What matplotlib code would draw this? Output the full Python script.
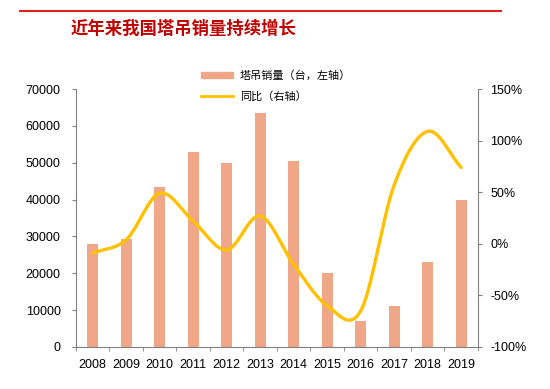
import numpy as np
import matplotlib.pyplot as plt
from matplotlib.patches import Patch
from matplotlib.lines import Line2D

plt.rcParams['font.family'] = ['Liberation Sans', 'Noto Sans CJK SC', 'DejaVu Sans']

years = ['2008', '2009', '2010', '2011', '2012', '2013', '2014', '2015', '2016', '2017', '2018', '2019']
sales = [28000, 29200, 43500, 53000, 50000, 63500, 50600, 20000, 7000, 11000, 23000, 40000]
yoy = [-9, 4, 49, 22, -6, 27, -20, -60, -65, 57, 109, 74]   # percent

bar_color = '#F0A787'
line_color = '#FFC000'
grey = '#808080'


def smooth(x, y, n=30):
    # catmull-rom style smoothing, like excel "smoothed line"
    x = np.asarray(x, float)
    y = np.asarray(y, float)
    px = np.concatenate([[2 * x[0] - x[1]], x, [2 * x[-1] - x[-2]]])
    py = np.concatenate([[2 * y[0] - y[1]], y, [2 * y[-1] - y[-2]]])
    xs, ys = [], []
    t = np.linspace(0, 1, n)
    for i in range(1, len(px) - 2):
        for p, out in ((px, xs), (py, ys)):
            p0, p1, p2, p3 = p[i - 1], p[i], p[i + 1], p[i + 2]
            out.extend(0.5 * ((2 * p1) + (-p0 + p2) * t + (2 * p0 - 5 * p1 + 4 * p2 - p3) * t ** 2
                              + (-p0 + 3 * p1 - 3 * p2 + p3) * t ** 3))
    return np.array(xs), np.array(ys)


fig = plt.figure(figsize=(5.5, 3.89), dpi=100)
ax = fig.add_axes([0.138, 0.108, 0.731, 0.663])
ax2 = ax.twinx()

x = np.arange(len(years))
ax.bar(x, sales, width=0.32, color=bar_color, zorder=1)
ax.set_ylim(0, 70000)
ax.set_yticks(range(0, 70001, 10000))
ax.set_xlim(-0.5, len(years) - 0.5)
ax.set_xticks(x)
ax.set_xticklabels(years)
ax.set_xticks(np.arange(-0.5, len(years), 1), minor=True)
ax.tick_params(axis='x', which='major', length=0, pad=9, labelsize=9)
ax.tick_params(axis='x', which='minor', length=3, color=grey, direction='out')
ax.tick_params(axis='y', length=3, color=grey, pad=8, labelsize=9)

sx, sy = smooth(x, yoy)
ax2.plot(sx, sy, color=line_color, lw=2.4, solid_capstyle='round')
ax2.set_ylim(-100, 150)
ax2.set_yticks(range(-100, 151, 50))
ax2.set_yticklabels([f'{v}%' for v in range(-100, 151, 50)])
ax2.tick_params(axis='y', length=3, color=grey, pad=6, labelsize=9)

for a in (ax, ax2):
    a.spines['top'].set_visible(False)
    for s in ('left', 'right', 'bottom'):
        a.spines[s].set_color(grey)
ax.spines['right'].set_visible(False)
ax2.spines['left'].set_visible(False)
ax2.spines['bottom'].set_visible(False)

handles = [Patch(color=bar_color), Line2D([0], [0], color=line_color, lw=2)]
labels = ['塔吊销量（台，左轴）', '同比（右轴）']
fig.legend(handles, labels, loc='upper left', bbox_to_anchor=(0.347, 0.845), frameon=False,
           prop={'family': ['Noto Sans CJK SC'], 'size': 8}, handlelength=2.9,
           handleheight=0.5, labelspacing=0.9, handletextpad=0.6)

# title bar
fig.add_artist(Line2D([0.036, 0.91], [0.973, 0.973], color='#E02020', lw=1.5))
fig.text(0.128, 0.925, '近年来我国塔吊销量持续增长', color='#C00000', fontsize=12.5,
         fontweight='bold', family=['Noto Sans CJK SC'], va='center')

fig.savefig('out.png', dpi=100)
